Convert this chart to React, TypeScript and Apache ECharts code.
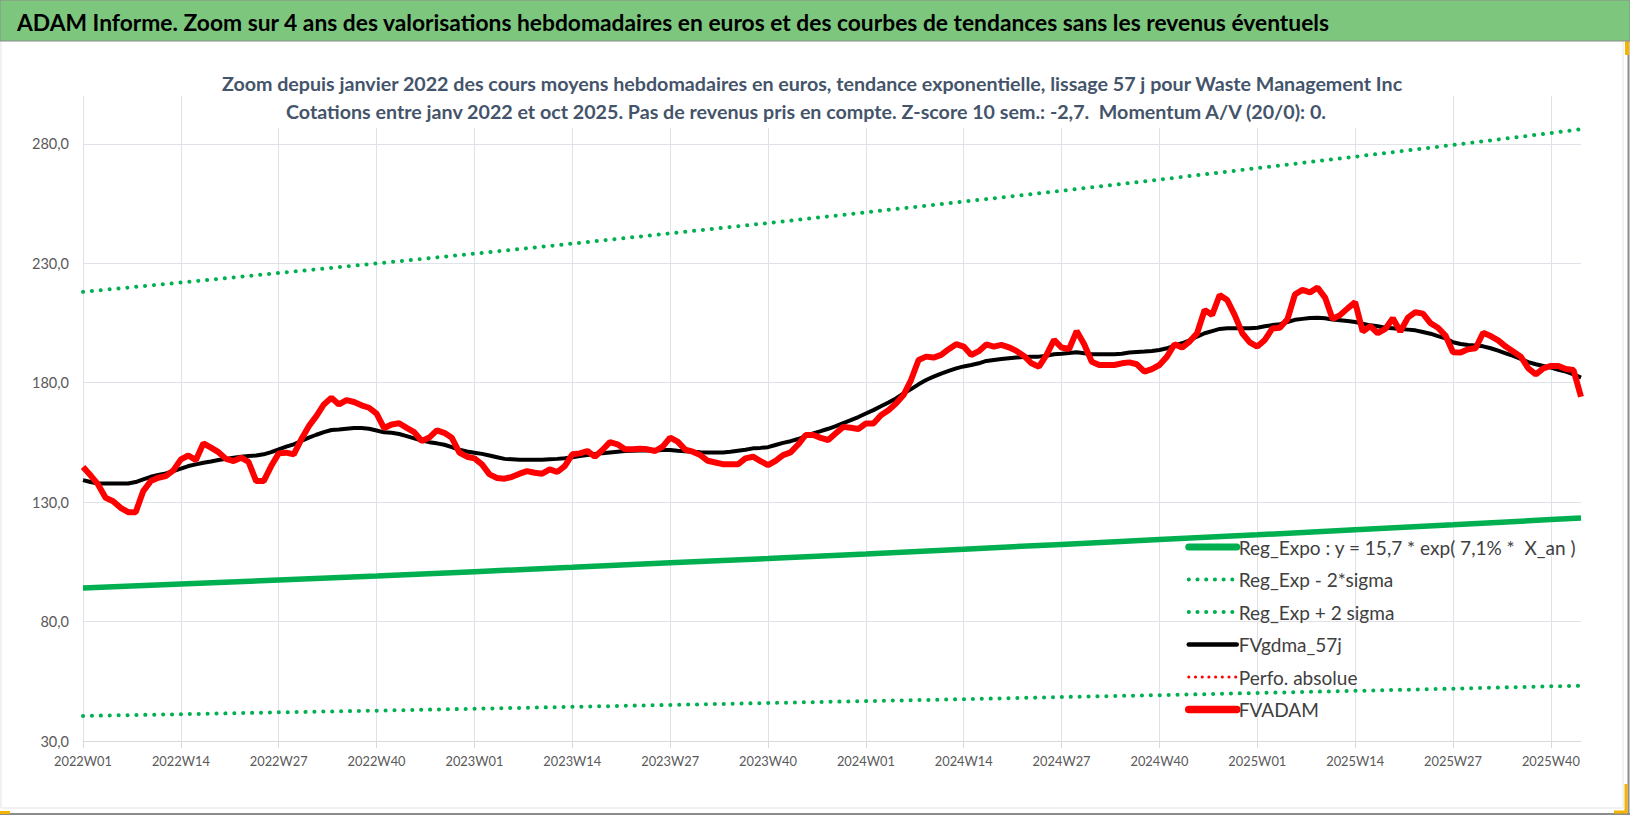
import React, { useEffect, useRef } from "react";
import * as echarts from "echarts";

// ---------- DATA ----------
const years = [2022, 2023, 2024, 2025];
const weeksPerYear = [52, 52, 52, 44];
const categories: string[] = [];
years.forEach((y, i) => {
  for (let w = 1; w <= weeksPerYear[i]; w++) categories.push(`${y}W${String(w).padStart(2, "0")}`);
});

const fvadam = [
  144.7, 141.2, 137.4, 131.8, 130.4, 127.6, 125.8, 125.8, 134.6, 138.8,
  140.2, 140.9, 143.3, 147.9, 149.5, 147.6, 154.6, 152.8, 150.9, 148.1,
  147.2, 148.6, 146.8, 138.8, 138.8, 145.1, 150.4, 150.7, 150.0, 156.3,
  161.8, 166.0, 170.9, 173.7, 170.9, 172.7, 171.9, 170.5, 169.5, 167.0,
  161.0, 162.5, 163.0, 161.1, 159.3, 155.6, 157.0, 160.0, 159.0, 156.9,
  150.7, 149.0, 148.3, 145.8, 141.6, 140.1, 139.8, 140.6, 141.9, 143.0,
  142.3, 141.9, 143.7, 142.6, 145.1, 150.0, 150.4, 151.4, 149.0, 151.8,
  155.1, 154.2, 152.1, 152.1, 152.3, 152.1, 151.4, 153.2, 157.0, 155.3,
  152.0, 151.1, 149.7, 147.3, 146.6, 145.9, 145.8, 145.8, 148.3, 149.0,
  147.2, 145.5, 147.3, 149.7, 150.8, 154.1, 158.1, 158.1, 156.9, 156.0,
  158.8, 161.5, 161.1, 160.6, 162.9, 162.9, 166.4, 168.5, 171.3, 174.8,
  181.1, 189.5, 190.9, 190.5, 191.6, 194.0, 196.1, 195.1, 191.6, 193.2,
  196.0, 195.1, 195.8, 194.8, 193.3, 191.2, 188.1, 186.7, 191.6, 197.9,
  194.7, 194.1, 201.6, 196.1, 188.8, 187.4, 187.4, 187.4, 188.1, 188.5,
  187.7, 184.6, 185.7, 187.4, 190.9, 196.1, 194.7, 197.2, 200.7, 210.4,
  208.3, 216.7, 214.6, 208.3, 200.7, 196.9, 195.1, 197.9, 202.7, 203.0,
  206.5, 217.0, 218.8, 217.8, 219.8, 215.6, 206.7, 208.3, 211.1, 213.7,
  201.4, 203.7, 200.7, 202.5, 207.0, 201.4, 207.2, 209.5, 208.9, 204.9,
  203.0, 199.7, 192.7, 192.6, 194.0, 194.4, 200.9, 199.5, 197.7, 195.1,
  193.0, 190.9, 186.0, 183.5, 186.0, 187.0, 187.0, 185.7, 185.3, 174.1,
];

const fvgdma57 = [
  139.2, 138.4, 137.8, 137.8, 137.8, 137.8, 137.8, 138.4, 139.5, 140.6,
  141.4, 142.0, 143.0, 144.0, 145.1, 145.8, 146.5, 147.0, 147.6, 148.1,
  148.6, 149.0, 149.3, 149.5, 150.0, 150.9, 152.1, 153.2, 154.2, 155.6,
  157.0, 158.2, 159.3, 160.2, 160.4, 160.7, 161.0, 161.0, 160.7, 160.0,
  159.2, 159.0, 158.5, 157.6, 156.7, 155.8, 155.1, 154.6, 154.0, 153.0,
  151.9, 151.2, 150.7, 150.2, 149.5, 148.8, 148.1, 147.9, 147.7, 147.7,
  147.7, 147.7, 147.9, 148.1, 148.4, 148.8, 149.3, 149.7, 150.1, 150.5,
  150.8, 151.1, 151.4, 151.5, 151.6, 151.6, 151.6, 151.8, 151.8, 151.5,
  151.3, 151.1, 150.9, 150.8, 150.8, 150.8, 151.1, 151.5, 151.9, 152.5,
  152.7, 153.0, 153.9, 154.8, 155.5, 156.4, 157.6, 158.8, 159.7, 160.7,
  161.8, 163.1, 164.3, 165.6, 167.1, 168.5, 170.1, 171.7, 173.4, 175.5,
  177.3, 179.3, 181.1, 182.5, 183.8, 184.9, 186.0, 186.8, 187.4, 188.1,
  189.1, 189.5, 189.9, 190.2, 190.5, 190.7, 190.9, 190.9, 191.3, 191.9,
  192.1, 192.4, 192.7, 192.3, 191.9, 191.9, 191.9, 191.9, 192.1, 192.6,
  192.8, 193.0, 193.3, 193.7, 194.4, 195.5, 196.5, 197.7, 199.3, 200.7,
  201.6, 202.5, 202.8, 202.8, 202.8, 202.8, 203.0, 203.6, 204.1, 204.5,
  205.4, 206.3, 206.7, 207.1, 207.2, 207.0, 206.4, 206.1, 205.8, 205.4,
  204.7, 204.0, 203.6, 203.0, 202.8, 202.5, 202.2, 201.9, 201.2, 200.5,
  199.5, 198.6, 196.9, 196.2, 195.8, 195.6, 195.2, 194.4, 193.4, 192.3,
  191.2, 189.9, 188.6, 187.7, 187.0, 186.3, 185.4, 184.6, 183.5, 182.1,
];

// regression curves, read at the labelled weeks (every 13 weeks) and at the last week
const regIdx = [0, 13, 26, 39, 52, 65, 78, 91, 104, 117, 130, 143, 156, 169, 182, 195, 199];
const regExpo = [94.0, 95.7, 97.4, 99.1, 100.9, 102.7, 104.6, 106.4, 108.3, 110.3, 112.3, 114.3, 116.3, 118.4, 120.5, 122.7, 123.3];
const regMinus2 = [40.5, 41.2, 42.0, 42.7, 43.5, 44.3, 45.1, 45.9, 46.7, 47.5, 48.4, 49.2, 50.1, 51.0, 51.9, 52.9, 53.1];
const regPlus2 = [218.0, 221.9, 225.9, 229.9, 234.0, 238.2, 242.5, 246.8, 251.3, 255.8, 260.3, 265.0, 269.8, 274.6, 279.5, 284.5, 286.1];

const seriesNames = [
  "Reg_Expo : y = 15,7 * exp( 7,1% *  X_an )",
  "Reg_Exp - 2*sigma",
  "Reg_Exp + 2 sigma",
  "FVgdma_57j",
  "Perfo. absolue",
  "FVADAM",
];

const titleText =
  "ADAM Informe. Zoom sur 4 ans des valorisations hebdomadaires en euros et des courbes de tendances sans les revenus éventuels";
const subTitle1 =
  "Zoom depuis janvier 2022 des cours moyens hebdomadaires en euros, tendance exponentielle, lissage 57 j pour Waste Management Inc";
const subTitle2 =
  "Cotations entre janv 2022 et oct 2025. Pas de revenus pris en compte. Z-score 10 sem.: -2,7.  Momentum A/V (20/0): 0.";

// ---------- STYLE HELPERS ----------
const FONT = "Lato";
const GREEN = "#00b050";
const GRID = "#dfe2e8";

const fitSize = (text: string, weight: string, target: number, fallback: number) => {
  try {
    const ctx = document.createElement("canvas").getContext("2d");
    if (!ctx) return fallback;
    ctx.font = `${weight} 100px ${FONT}`;
    const w = ctx.measureText(text).width;
    return w > 0 ? (100 * target) / w : fallback;
  } catch (e) {
    return fallback;
  }
};

const pairs = (vals: number[]) => vals.map((v, i) => [regIdx[i], v]);

export default function App() {
  const ref = useRef<HTMLDivElement>(null);
  useEffect(() => {
    if (!ref.current) return;
    const chart = echarts.init(ref.current, undefined, { renderer: "svg" });

    const titleSize = fitSize(titleText, "bold", 1314, 20);
    const subSize = fitSize(subTitle1, "bold", 1182, 19);
    const legendSize = fitSize(seriesNames[0], "normal", 338, 18);
    const xLabSize = fitSize("2022W01", "normal", 58, 14);
    const yLabSize = fitSize("280,0", "normal", 37, 14);

    const dotted = (color: string, w: number, gap: number) => ({
      color,
      width: w,
      type: [0.1, gap] as any,
      cap: "round" as any,
    });
    const legendLine = (name: string, ls: any) => ({ name, lineStyle: ls });

    chart.setOption({
      animation: false,
      backgroundColor: "#ffffff",
      textStyle: { fontFamily: FONT },
      grid: { left: 83, right: 49, top: 96, bottom: 74, containLabel: false },
      legend: {
        orient: "vertical",
        left: 1185,
        top: 537,
        padding: 0,
        itemWidth: 48,
        itemHeight: 14,
        itemGap: 12.5,
        selectedMode: false,
        itemStyle: { color: "rgba(0,0,0,0)", borderWidth: 0, borderColor: "rgba(0,0,0,0)" },
        textStyle: { fontFamily: FONT, fontSize: legendSize, color: "#404040", lineHeight: 20, padding: [0, 0, 0, -3] },
        data: [
          legendLine(seriesNames[0], { color: GREEN, width: 7, cap: "round" }),
          legendLine(seriesNames[1], dotted(GREEN, 4, 8.6)),
          legendLine(seriesNames[2], dotted(GREEN, 4, 8.6)),
          legendLine(seriesNames[3], { color: "#000000", width: 4.5, cap: "round" }),
          legendLine(seriesNames[4], dotted("#ff0000", 3, 6.6)),
          legendLine(seriesNames[5], { color: "#ff0000", width: 7.5, cap: "round" }),
        ],
      },
      xAxis: {
        type: "category",
        data: categories,
        boundaryGap: false,
        axisLine: { lineStyle: { color: "#d9d9d9", width: 1 } },
        axisTick: { show: true, interval: 12, length: 7, lineStyle: { color: "#d9d9d9" } },
        axisLabel: { interval: 12, color: "#595959", fontSize: xLabSize, fontFamily: FONT, margin: 13 },
        splitLine: { show: true, interval: 12, lineStyle: { color: GRID, width: 1 } },
      },
      yAxis: {
        type: "value",
        min: 30,
        max: 300,
        interval: 50,
        axisLine: { show: false },
        axisTick: { show: false },
        axisLabel: {
          color: "#595959",
          fontSize: yLabSize,
          fontFamily: FONT,
          margin: 14,
          showMaxLabel: false,
          formatter: (v: number) => (v === 300 ? "" : v.toFixed(1).replace(".", ",")),
        },
        splitLine: { show: true, showMaxLine: false, lineStyle: { color: GRID, width: 1 } },
      },
      series: [
        {
          name: seriesNames[0],
          type: "line",
          data: pairs(regExpo),
          symbol: "none",
          lineStyle: { color: GREEN, width: 5.5 },
          itemStyle: { color: GREEN },
        },
        {
          name: seriesNames[1],
          type: "line",
          data: pairs(regMinus2),
          symbol: "none",
          lineStyle: dotted(GREEN, 4, 8.8),
          itemStyle: { color: GREEN },
        },
        {
          name: seriesNames[2],
          type: "line",
          data: pairs(regPlus2),
          symbol: "none",
          lineStyle: dotted(GREEN, 4, 8.8),
          itemStyle: { color: GREEN },
        },
        {
          name: seriesNames[3],
          type: "line",
          data: fvgdma57,
          symbol: "none",
          lineStyle: { color: "#000000", width: 4 },
          itemStyle: { color: "#000000" },
        },
        {
          name: seriesNames[4],
          type: "line",
          data: [],
          symbol: "none",
          lineStyle: dotted("#ff0000", 3, 6.6),
          itemStyle: { color: "#ff0000" },
        },
        {
          name: seriesNames[5],
          type: "line",
          data: fvadam,
          symbol: "none",
          lineStyle: { color: "#ff0000", width: 6 },
          itemStyle: { color: "#ff0000" },
        },
      ],
      graphic: [
        {
          type: "rect",
          shape: { x: 0, y: 0, width: 1630, height: 41 },
          style: { fill: "#7dc67e", stroke: "#8c8c8c", lineWidth: 1 },
          z: 10,
        },
        {
          type: "text",
          x: 17,
          y: 22,
          style: {
            text: titleText,
            fontFamily: FONT,
            fontWeight: "bold",
            fontSize: titleSize,
            fill: "#000000",
            verticalAlign: "middle",
            align: "left",
          },
          z: 11,
        },
        {
          type: "rect",
          shape: { x: 214, y: 66, width: 1198, height: 62 },
          style: { fill: "#ffffff" },
          z: 5,
        },
        {
          type: "text",
          x: 812,
          y: 83,
          style: {
            text: subTitle1,
            fontFamily: FONT,
            fontWeight: "bold",
            fontSize: subSize,
            fill: "#44546a",
            align: "center",
            verticalAlign: "middle",
          },
          z: 6,
        },
        {
          type: "text",
          x: 806,
          y: 111,
          style: {
            text: subTitle2,
            fontFamily: FONT,
            fontWeight: "bold",
            fontSize: subSize,
            fill: "#44546a",
            align: "center",
            verticalAlign: "middle",
          },
          z: 6,
        },
        {
          type: "line",
          shape: { x1: 1, y1: 41, x2: 1, y2: 808 },
          style: { stroke: "#e3e3e3", lineWidth: 1 },
        },
        {
          type: "line",
          shape: { x1: 1, y1: 808, x2: 1623, y2: 808 },
          style: { stroke: "#e3e3e3", lineWidth: 1 },
        },
        {
          type: "line",
          shape: { x1: 1623, y1: 41, x2: 1623, y2: 808 },
          style: { stroke: "#e3e3e3", lineWidth: 1 },
        },
        {
          type: "line",
          shape: { x1: 1628.5, y1: 41, x2: 1628.5, y2: 815 },
          style: { stroke: "#8c8c8c", lineWidth: 2 },
        },
        {
          type: "line",
          shape: { x1: 0, y1: 814, x2: 1630, y2: 814 },
          style: { stroke: "#8c8c8c", lineWidth: 2 },
        },
        {
          type: "rect",
          shape: { x: 1625, y: 41, width: 4, height: 14 },
          style: { fill: "#f5b400" },
        },
        {
          type: "polyline",
          shape: { points: [[1626, 784], [1626, 812], [1614, 812]] },
          style: { stroke: "#f5b400", lineWidth: 3, fill: null },
        },
        {
          type: "rect",
          shape: { x: 0, y: 811, width: 10, height: 3 },
          style: { fill: "#f5b400" },
        },
      ],
    });
    return () => chart.dispose();
  }, []);
  return (
    <div
      ref={ref}
      style={{ position: "fixed", left: 0, top: 0, width: 1630, height: 815, background: "#fff" }}
    />
  );
}
